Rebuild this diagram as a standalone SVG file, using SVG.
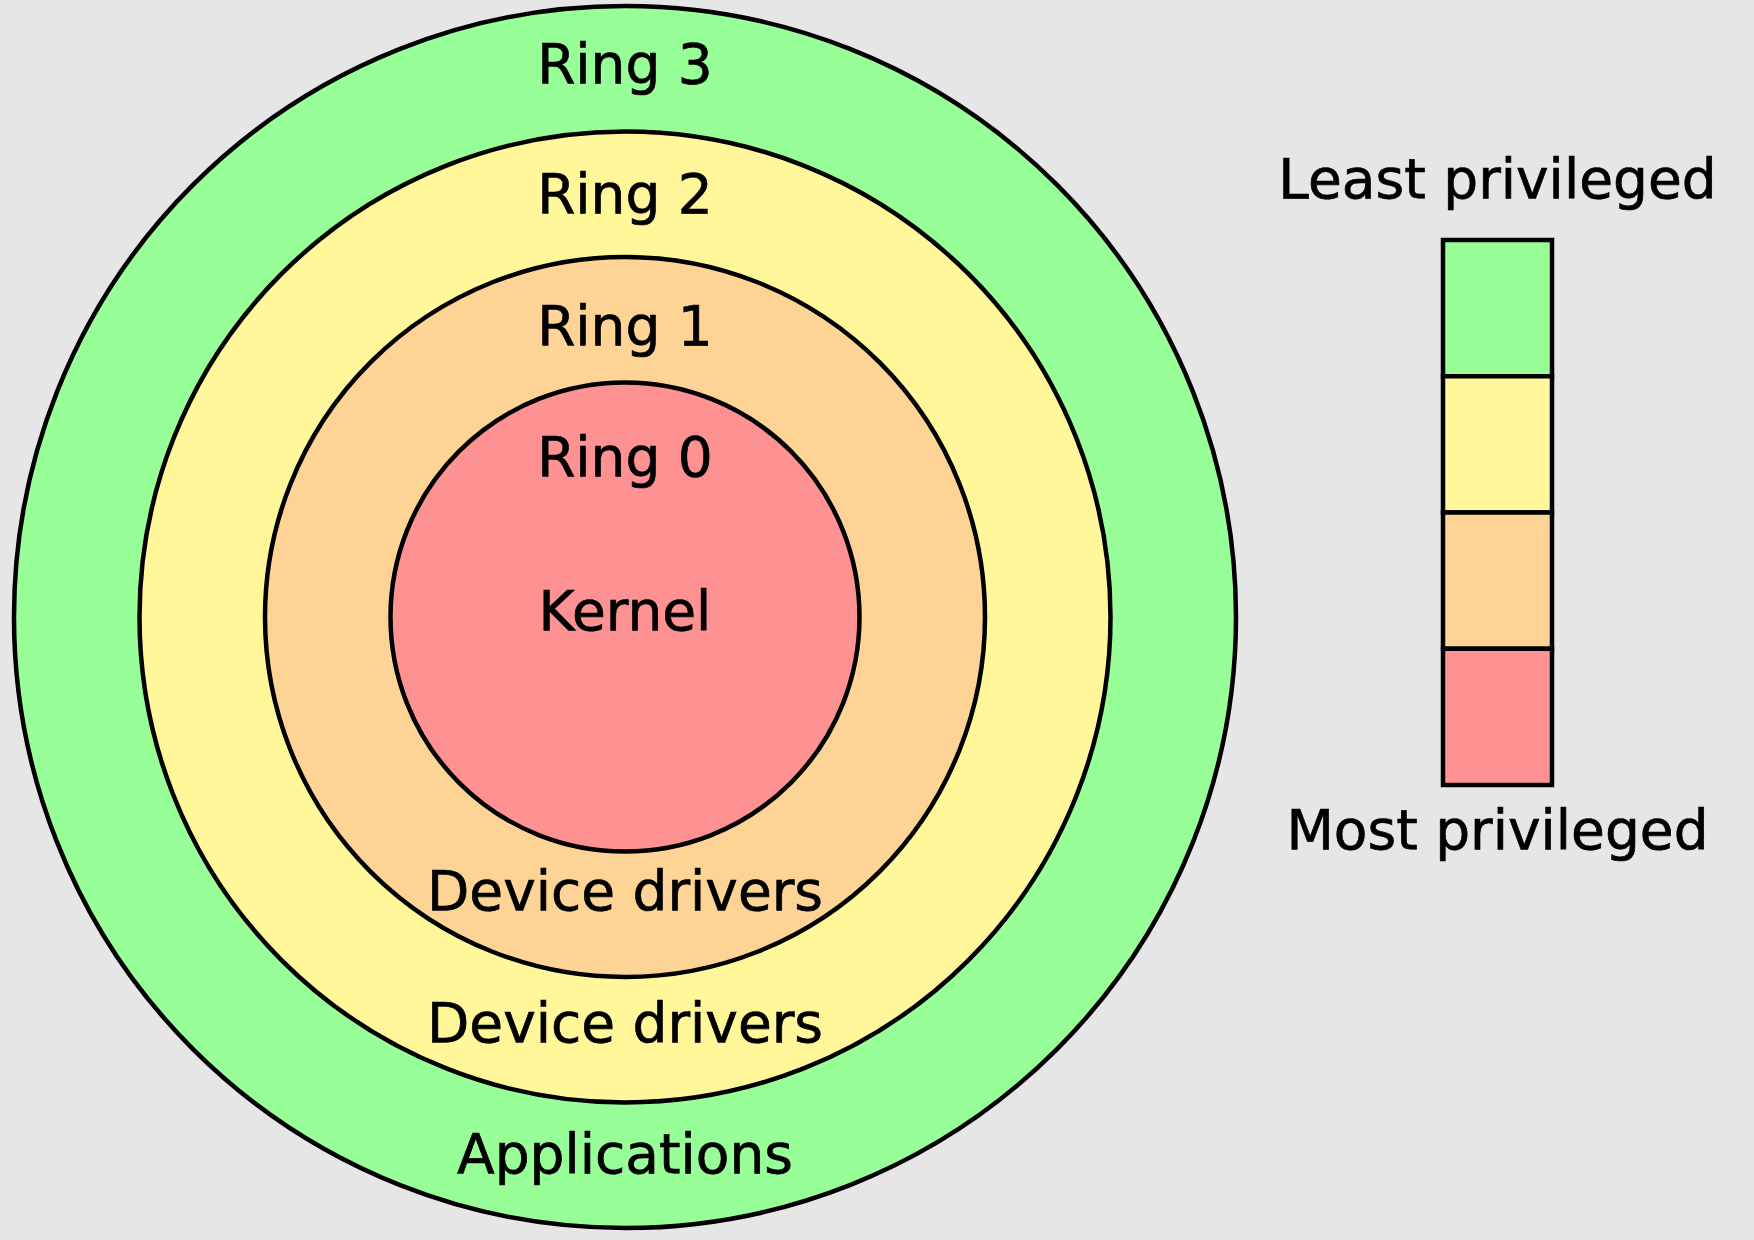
<svg xmlns="http://www.w3.org/2000/svg" width="1754" height="1240" viewBox="0 0 1754 1240">
<style>
.ring{stroke:#000;stroke-width:4.5}
.t{font-family:"DejaVu Sans",sans-serif;font-size:55px;fill:#000;stroke:#000;stroke-width:0.7;text-anchor:middle}
.g{fill:#98fe98}.y{fill:#fff799}.o{fill:#fed496}.r{fill:#fe9191}
</style>
<rect width="1754" height="1240" fill="#e6e6e6"/>
<g id="ring3"><circle class="ring g" cx="625" cy="617" r="611"/><text class="t" x="625" y="83">Ring 3</text><text class="t" x="625" y="1173">Applications</text></g>
<g id="ring2"><circle class="ring y" cx="625" cy="617" r="485.5"/><text class="t" x="625" y="213">Ring 2</text><text class="t" x="625" y="1042">Device drivers</text></g>
<g id="ring1"><circle class="ring o" cx="625" cy="617" r="360"/><text class="t" x="625" y="345">Ring 1</text><text class="t" x="625" y="910">Device drivers</text></g>
<g id="ring0"><circle class="ring r" cx="625" cy="617" r="234.5"/><text class="t" x="625" y="476">Ring 0</text><text class="t" x="625" y="630">Kernel</text></g>
<g id="legend">
<text class="t" x="1497.5" y="198">Least privileged</text>
<rect class="ring g" x="1443" y="240" width="109" height="136.25"/>
<rect class="ring y" x="1443" y="376.25" width="109" height="136.25"/>
<rect class="ring o" x="1443" y="512.5" width="109" height="136.25"/>
<rect class="ring r" x="1443" y="648.75" width="109" height="136.25"/>
<text class="t" x="1497.5" y="849">Most privileged</text>
</g>
<g id="connectors"/>
</svg>
